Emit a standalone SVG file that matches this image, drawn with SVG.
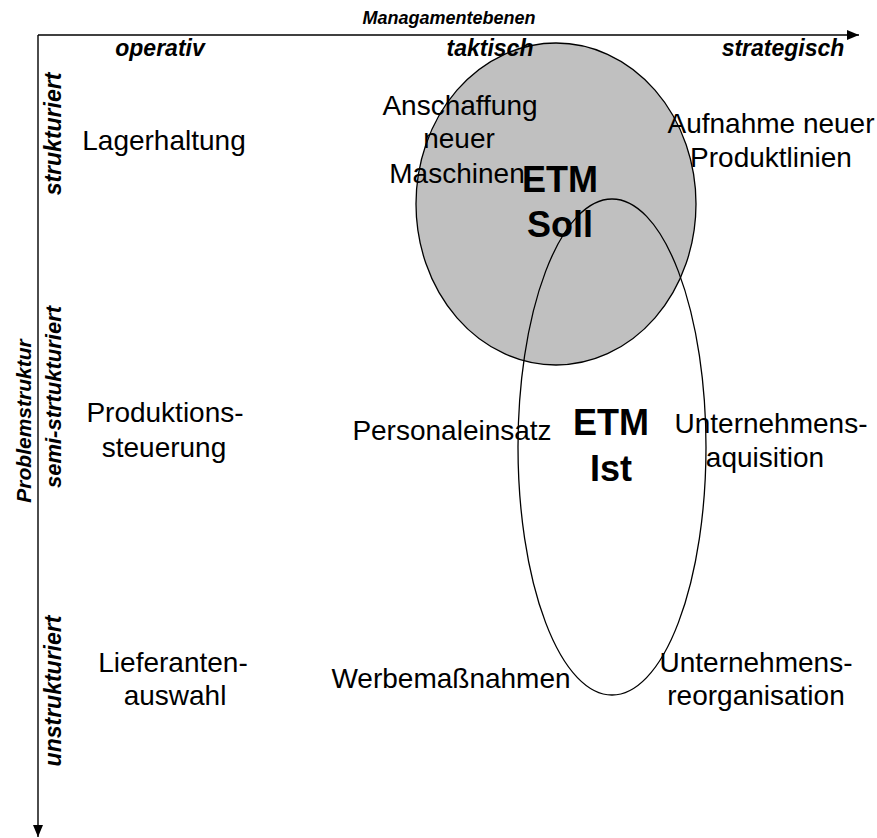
<svg xmlns="http://www.w3.org/2000/svg" width="877" height="838" viewBox="0 0 877 838">
  <defs>
    <marker id="arrow" viewBox="0 0 12 10" refX="12" refY="5" markerWidth="12" markerHeight="10" markerUnits="userSpaceOnUse" orient="auto">
      <path d="M0,0 L12,5 L0,10 Z" fill="#000"/>
    </marker>
    <style>
      text { font-family: "Liberation Sans", Arial, sans-serif; fill: #000; }
      .lbl { font-size: 28px; text-anchor: middle; }
      .axis { font-size: 23px; font-weight: bold; font-style: italic; text-anchor: middle; }
      .etm { font-size: 36px; font-weight: bold; text-anchor: middle; }
      .ax { stroke: #000; stroke-width: 1.4; fill: none; }
      .set { stroke: #000; stroke-width: 1.3; }
    </style>
  </defs>
  <rect width="877" height="838" fill="#fff"/>

  <!-- ETM target region (filled) and current region (outline) -->
  <g id="etm-soll">
    <ellipse class="set" cx="556" cy="204" rx="140" ry="161" fill="#c0c0c0"/>
  </g>
  <g id="etm-ist">
    <ellipse class="set" cx="612" cy="447" rx="94" ry="248" fill="none"/>
  </g>

  <!-- axes -->
  <g id="connectors">
    <path class="ax" d="M38,35 H859" marker-end="url(#arrow)"/>
    <path class="ax" d="M38,35 V837" marker-end="url(#arrow)"/>
  </g>

  <!-- axis titles -->
  <g id="axis-management">
    <text x="449" y="24" style="font-size:18px;font-weight:bold;font-style:italic" text-anchor="middle">Managamentebenen</text>
    <text class="axis" x="160" y="56">operativ</text>
    <text class="axis" x="490" y="56">taktisch</text>
    <text class="axis" x="783" y="56">strategisch</text>
  </g>
  <g id="axis-problem">
    <text class="axis" transform="translate(31,421) rotate(-90)" style="font-size:21px">Problemstruktur</text>
    <text class="axis" transform="translate(61,134) rotate(-90)">strukturiert</text>
    <text class="axis" transform="translate(61,397) rotate(-90)" style="font-size:22px">semi-strtukturiert</text>
    <text class="axis" transform="translate(61,691) rotate(-90)">unstrukturiert</text>
  </g>

  <!-- decision examples -->
  <g id="lagerhaltung"><text class="lbl" x="164" y="150">Lagerhaltung</text></g>
  <g id="anschaffung">
    <text class="lbl" x="460" y="115">Anschaffung</text>
    <text class="lbl" x="459" y="148">neuer</text>
    <text class="lbl" x="457" y="183">Maschinen</text>
  </g>
  <g id="aufnahme">
    <text class="lbl" x="771" y="133">Aufnahme neuer</text>
    <text class="lbl" x="771" y="167">Produktlinien</text>
  </g>
  <g id="produktionssteuerung">
    <text class="lbl" x="165" y="422">Produktions-</text>
    <text class="lbl" x="164" y="457">steuerung</text>
  </g>
  <g id="personaleinsatz"><text class="lbl" x="452" y="440">Personaleinsatz</text></g>
  <g id="akquisition">
    <text class="lbl" x="771" y="433">Unternehmens-</text>
    <text class="lbl" x="765" y="467">aquisition</text>
  </g>
  <g id="lieferantenauswahl">
    <text class="lbl" x="173" y="672">Lieferanten-</text>
    <text class="lbl" x="175" y="705">auswahl</text>
  </g>
  <g id="werbemassnahmen"><text class="lbl" x="451" y="688">Werbemaßnahmen</text></g>
  <g id="reorganisation">
    <text class="lbl" x="756" y="672">Unternehmens-</text>
    <text class="lbl" x="756" y="705">reorganisation</text>
  </g>

  <!-- region names -->
  <g id="etm-soll-label">
    <text class="etm" x="560" y="192">ETM</text>
    <text class="etm" x="560" y="237">Soll</text>
  </g>
  <g id="etm-ist-label">
    <text class="etm" x="611" y="435">ETM</text>
    <text class="etm" x="611" y="481">Ist</text>
  </g>
</svg>
